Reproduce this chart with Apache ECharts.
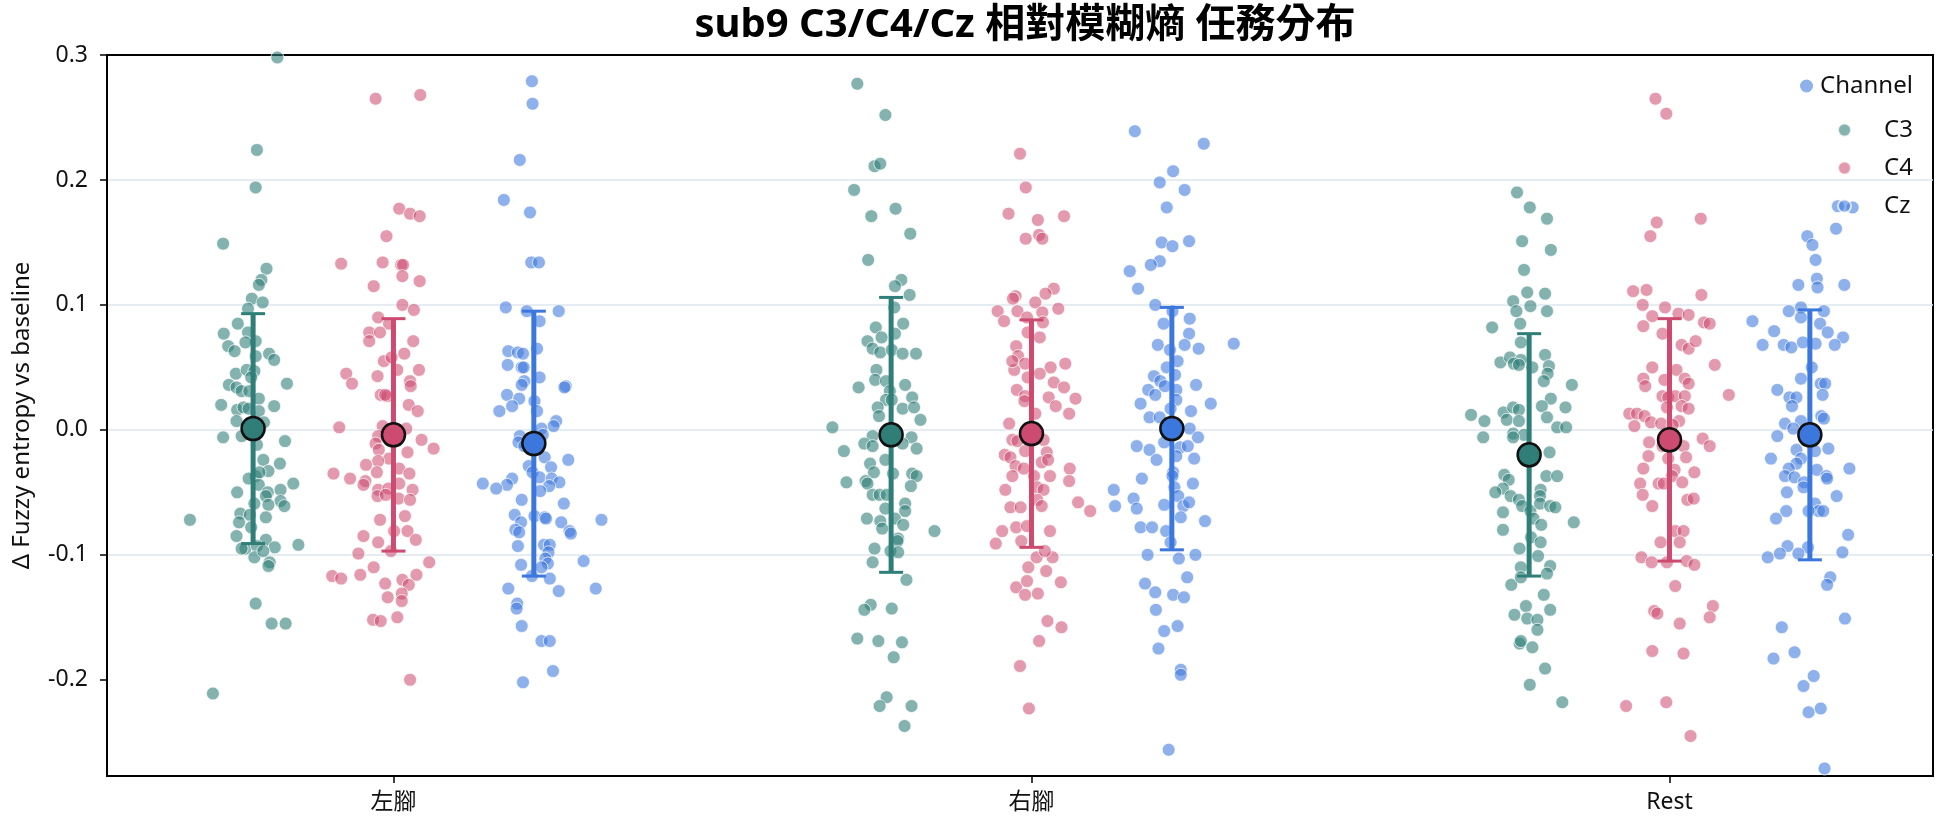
<!DOCTYPE html>
<html>
<head>
<meta charset="utf-8">
<title>sub9 C3/C4/Cz</title>
<script src="https://cdn.jsdelivr.net/npm/echarts@6/dist/echarts.min.js"></script>
<style>
  html, body { margin: 0; padding: 0; background: #fff; }
  #chart { width: 1944px; height: 827px; }
</style>
</head>
<body>
<div id="chart"></div>
<script>
// categories
var groups = ['左腳', '右腳', 'Rest'];
var channels = ['C3', 'C4', 'Cz'];

// each point: [jitter (thousandths of a category), delta fuzzy entropy]
var leftC3 = [[38,0.298],[6,0.224],[4,0.194],[-47,0.149],[21,0.129],[13,0.120],[9,0.116],[-2,0.105],[15,0.102],[-8,0.097],[-24,0.085],[-46,0.077],[-8,0.078],[4,0.071],[-39,0.067],[-29,0.063],[-12,0.070],[25,0.061],[33,0.056],[4,0.059],[-27,0.045],[-10,0.048],[2,0.047],[-3,0.042],[-38,0.036],[-26,0.034],[-18,0.031],[-6,0.031],[53,0.037],[9,0.025],[-50,0.020],[-25,0.016],[-15,0.018],[33,0.019],[9,0.015],[-26,0.007],[17,0.006],[-47,-0.006],[-18,-0.005],[50,-0.009],[6,-0.012],[16,-0.024],[42,-0.027],[24,-0.033],[4,-0.037],[-7,-0.039],[9,-0.044],[63,-0.043],[-25,-0.050],[23,-0.050],[43,-0.048],[20,-0.053],[43,-0.057],[49,-0.061],[2,-0.059],[24,-0.060],[-20,-0.067],[-5,-0.068],[20,-0.070],[-99,-0.072],[-22,-0.074],[-3,-0.078],[-26,-0.085],[20,-0.088],[34,-0.094],[-12,-0.095],[6,-0.093],[71,-0.092],[2,-0.102],[26,-0.106],[24,-0.109],[4,-0.139],[29,-0.155],[51,-0.155],[-63,-0.211],[-18,-0.095],[16,-0.097],[-7,0.017],[10,-0.034]];
var leftC4 = [[-28,0.265],[42,0.268],[9,0.177],[26,0.173],[41,0.171],[-11,0.155],[-82,0.133],[-17,0.134],[12,0.132],[15,0.132],[14,0.123],[41,0.119],[-31,0.115],[14,0.100],[32,0.096],[-24,0.090],[-7,0.085],[-38,0.078],[-21,0.078],[-38,0.071],[31,0.071],[17,0.061],[-15,0.055],[-3,0.058],[-74,0.045],[-65,0.037],[-25,0.043],[6,0.048],[40,0.048],[26,0.039],[27,0.035],[-20,0.028],[-10,0.027],[-13,0.028],[24,0.020],[38,0.015],[-85,0.002],[-17,0.003],[20,0.001],[-24,-0.005],[44,-0.008],[-28,-0.011],[63,-0.015],[-23,-0.016],[22,-0.018],[-7,-0.023],[-24,-0.025],[-43,-0.028],[-94,-0.035],[-68,-0.039],[-44,-0.041],[-26,-0.034],[9,-0.031],[25,-0.035],[-47,-0.044],[-24,-0.048],[-8,-0.047],[9,-0.043],[30,-0.048],[-25,-0.053],[-12,-0.052],[8,-0.055],[26,-0.056],[-21,-0.072],[18,-0.069],[-47,-0.085],[-24,-0.090],[1,-0.081],[22,-0.081],[35,-0.088],[-55,-0.099],[-4,-0.097],[-31,-0.110],[-96,-0.117],[-82,-0.119],[-52,-0.116],[56,-0.106],[36,-0.116],[-13,-0.123],[14,-0.120],[24,-0.124],[13,-0.131],[-9,-0.134],[13,-0.137],[-32,-0.152],[-20,-0.153],[6,-0.150],[26,-0.200]];
var leftCz = [[-3,0.279],[-2,0.261],[-22,0.216],[-47,0.184],[-6,0.174],[-4,0.134],[8,0.134],[-44,0.098],[-11,0.095],[39,0.095],[9,0.087],[5,0.065],[-40,0.063],[-25,0.062],[-17,0.061],[-41,0.052],[-19,0.050],[-16,0.050],[9,0.042],[-15,0.039],[-19,0.036],[50,0.035],[48,0.034],[-42,0.028],[-23,0.025],[1,0.023],[-34,0.019],[-54,0.015],[5,0.015],[35,0.007],[31,0.003],[12,0.001],[-22,-0.005],[-24,-0.010],[14,-0.004],[-15,-0.013],[54,-0.024],[17,-0.022],[27,-0.030],[-8,-0.029],[-2,-0.034],[-34,-0.039],[-42,-0.044],[-80,-0.043],[-59,-0.047],[9,-0.038],[28,-0.039],[40,-0.042],[24,-0.045],[10,-0.049],[-19,-0.056],[47,-0.059],[-30,-0.068],[1,-0.069],[17,-0.070],[19,-0.071],[43,-0.074],[-20,-0.074],[106,-0.072],[-29,-0.080],[-23,-0.082],[56,-0.081],[58,-0.083],[-25,-0.093],[16,-0.092],[25,-0.092],[23,-0.098],[18,-0.103],[22,-0.107],[-20,-0.108],[78,-0.105],[12,-0.110],[-3,-0.117],[25,-0.119],[-40,-0.127],[39,-0.129],[97,-0.127],[-26,-0.139],[-27,-0.143],[-19,-0.157],[12,-0.169],[25,-0.169],[30,-0.193],[-17,-0.202]];

var rightC3 = [[-53,0.277],[-9,0.252],[-26,0.211],[-17,0.213],[-58,0.192],[7,0.177],[-31,0.171],[30,0.157],[-36,0.136],[16,0.120],[6,0.115],[29,0.108],[5,0.098],[19,0.085],[-24,0.082],[6,0.077],[-15,0.074],[-37,0.071],[-29,0.065],[-17,0.062],[1,0.064],[18,0.061],[39,0.061],[-23,0.048],[-25,0.040],[-51,0.034],[-8,0.039],[22,0.036],[-2,0.031],[-8,0.024],[1,0.024],[33,0.026],[-21,0.018],[18,0.017],[36,0.018],[-19,0.011],[46,0.008],[-92,0.002],[-29,-0.005],[32,-0.006],[-42,-0.011],[-29,-0.013],[18,-0.011],[40,-0.015],[-74,-0.017],[-9,-0.024],[-33,-0.027],[-27,-0.034],[3,-0.035],[33,-0.035],[40,-0.037],[-70,-0.042],[-40,-0.041],[-37,-0.043],[31,-0.045],[-29,-0.052],[-18,-0.052],[-7,-0.052],[-9,-0.063],[22,-0.059],[22,-0.065],[-38,-0.071],[-17,-0.073],[6,-0.071],[19,-0.076],[-14,-0.079],[68,-0.081],[11,-0.087],[10,-0.089],[-26,-0.095],[-1,-0.097],[11,-0.098],[-29,-0.106],[24,-0.120],[-32,-0.140],[-42,-0.144],[1,-0.143],[-53,-0.167],[-20,-0.169],[17,-0.170],[4,-0.182],[-7,-0.214],[-18,-0.221],[32,-0.221],[21,-0.237]];
var rightC4 = [[-18,0.221],[-9,0.194],[-36,0.173],[10,0.168],[51,0.171],[-9,0.153],[12,0.156],[17,0.153],[35,0.113],[22,0.109],[-25,0.107],[-29,0.105],[6,0.102],[-53,0.095],[-22,0.095],[42,0.097],[-43,0.087],[-7,0.090],[17,0.094],[18,0.086],[-6,0.078],[13,0.074],[-24,0.067],[-21,0.059],[-27,0.048],[-30,0.055],[-10,0.053],[30,0.050],[53,0.053],[13,0.045],[-6,0.042],[35,0.038],[51,0.034],[-23,0.032],[-10,0.027],[-11,0.023],[27,0.026],[69,0.025],[38,0.019],[6,0.013],[59,0.013],[-35,0.005],[-30,-0.008],[-22,-0.009],[19,-0.008],[-10,-0.017],[-42,-0.020],[24,-0.018],[-33,-0.022],[16,-0.026],[26,-0.024],[-25,-0.029],[-12,-0.031],[60,-0.031],[29,-0.037],[-30,-0.037],[4,-0.037],[59,-0.041],[-41,-0.048],[9,-0.046],[19,-0.048],[9,-0.056],[16,-0.061],[-33,-0.062],[-17,-0.062],[73,-0.058],[92,-0.065],[-24,-0.078],[-7,-0.077],[29,-0.081],[-46,-0.081],[-56,-0.091],[-16,-0.089],[8,-0.102],[33,-0.102],[21,-0.097],[-5,-0.110],[23,-0.113],[46,-0.122],[-24,-0.126],[-7,-0.121],[-10,-0.132],[10,-0.131],[25,-0.153],[47,-0.158],[12,-0.169],[-18,-0.189],[-4,-0.223]];
var rightCz = [[-58,0.239],[50,0.229],[2,0.207],[-19,0.198],[20,0.192],[-8,0.178],[-16,0.150],[1,0.147],[27,0.151],[-19,0.135],[-33,0.132],[-66,0.127],[-53,0.113],[-26,0.100],[1,0.095],[28,0.089],[-13,0.085],[27,0.077],[-22,0.068],[-3,0.064],[20,0.068],[42,0.065],[97,0.069],[9,0.055],[-8,0.050],[5,0.044],[-28,0.043],[-18,0.039],[38,0.036],[-37,0.032],[-11,0.035],[7,0.032],[-26,0.028],[-49,0.021],[7,0.024],[61,0.021],[-2,0.017],[30,0.015],[-35,0.010],[-19,0.010],[28,0.001],[41,-0.006],[-12,-0.010],[-55,-0.013],[-35,-0.016],[13,-0.014],[25,-0.013],[7,-0.021],[-24,-0.024],[35,-0.023],[2,-0.034],[1,-0.037],[-47,-0.039],[33,-0.043],[4,-0.046],[-91,-0.048],[-89,-0.061],[-60,-0.055],[-55,-0.063],[-12,-0.060],[10,-0.053],[18,-0.061],[27,-0.058],[14,-0.070],[52,-0.073],[-49,-0.078],[-31,-0.078],[-9,-0.081],[-2,-0.090],[-38,-0.100],[11,-0.103],[37,-0.100],[24,-0.118],[-42,-0.123],[-26,-0.130],[2,-0.132],[19,-0.134],[-25,-0.144],[9,-0.157],[-12,-0.161],[-21,-0.175],[14,-0.192],[14,-0.196],[-5,-0.256]];

var restC3 = [[-19,0.190],[1,0.178],[28,0.169],[-11,0.151],[34,0.144],[-8,0.128],[-3,0.110],[25,0.109],[-25,0.103],[2,0.099],[-20,0.095],[28,0.095],[-14,0.085],[-58,0.082],[-13,0.070],[25,0.060],[-45,0.054],[-30,0.058],[-13,0.056],[-24,0.053],[-16,0.052],[5,0.050],[31,0.051],[29,0.045],[23,0.039],[67,0.036],[34,0.025],[20,0.019],[57,0.018],[-40,0.014],[-25,0.018],[-16,0.016],[-91,0.012],[-70,0.007],[-35,0.008],[-16,0.007],[28,0.010],[44,0.002],[58,0.002],[-25,-0.003],[-8,-0.004],[-72,-0.006],[-25,-0.006],[32,-0.018],[-39,-0.036],[-32,-0.040],[27,-0.037],[44,-0.037],[-41,-0.047],[-53,-0.050],[-29,-0.053],[-16,-0.056],[18,-0.048],[17,-0.053],[-11,-0.061],[2,-0.065],[17,-0.059],[33,-0.061],[41,-0.062],[-41,-0.066],[7,-0.071],[19,-0.076],[70,-0.074],[-41,-0.080],[3,-0.086],[18,-0.090],[-15,-0.095],[14,-0.101],[-13,-0.110],[33,-0.109],[28,-0.115],[-28,-0.124],[-13,-0.118],[23,-0.132],[33,-0.144],[-5,-0.141],[-23,-0.148],[-3,-0.151],[13,-0.152],[13,-0.160],[-15,-0.171],[-13,-0.169],[5,-0.174],[25,-0.191],[1,-0.204],[52,-0.218]];
var restC4 = [[-22,0.265],[-5,0.253],[-20,0.166],[-30,0.155],[49,0.169],[-57,0.111],[-36,0.112],[50,0.108],[-42,0.100],[-7,0.098],[-27,0.091],[14,0.093],[30,0.092],[54,0.086],[63,0.085],[-41,0.083],[-11,0.077],[19,0.068],[30,0.065],[41,0.071],[71,0.052],[-27,0.050],[11,0.048],[-41,0.041],[-38,0.035],[-8,0.040],[24,0.041],[30,0.037],[93,0.028],[-11,0.027],[-2,0.026],[9,0.027],[24,0.027],[-4,0.018],[19,0.019],[30,0.017],[-63,0.013],[-51,0.013],[-39,0.011],[-29,0.006],[-13,0.005],[15,0.007],[-55,0.003],[5,0.004],[52,-0.007],[63,-0.013],[-32,-0.010],[-11,-0.013],[22,-0.013],[-33,-0.021],[-2,-0.023],[26,-0.022],[-41,-0.031],[8,-0.032],[39,-0.034],[4,-0.037],[-46,-0.043],[-17,-0.043],[-9,-0.043],[20,-0.042],[-42,-0.052],[28,-0.056],[38,-0.055],[-27,-0.061],[9,-0.081],[22,-0.081],[16,-0.090],[-14,-0.090],[-44,-0.102],[-28,-0.106],[-4,-0.106],[27,-0.105],[39,-0.108],[9,-0.125],[68,-0.141],[63,-0.150],[-24,-0.145],[-19,-0.147],[16,-0.155],[-27,-0.177],[22,-0.179],[-68,-0.221],[-5,-0.218],[33,-0.245]];
var restCz = [[44,0.179],[67,0.178],[41,0.161],[-4,0.155],[4,0.148],[9,0.136],[11,0.121],[-18,0.116],[12,0.114],[54,0.116],[-14,0.098],[-33,0.095],[22,0.095],[-14,0.090],[-90,0.087],[16,0.085],[-56,0.079],[28,0.078],[52,0.074],[-74,0.068],[-41,0.068],[-29,0.066],[-11,0.070],[9,0.069],[39,0.068],[3,0.050],[-14,0.041],[17,0.037],[24,0.037],[-51,0.032],[-32,0.026],[-21,0.026],[-28,0.019],[20,0.028],[18,0.011],[22,0.009],[-14,0.007],[-39,0.005],[-26,0.001],[-51,-0.005],[29,-0.015],[-21,-0.016],[8,-0.017],[-61,-0.023],[-14,-0.023],[-21,-0.027],[62,-0.031],[-33,-0.031],[11,-0.032],[-39,-0.037],[-24,-0.038],[-9,-0.042],[26,-0.037],[27,-0.039],[-10,-0.046],[-36,-0.050],[42,-0.053],[8,-0.059],[14,-0.065],[21,-0.065],[-2,-0.065],[-37,-0.065],[-53,-0.071],[60,-0.084],[-35,-0.093],[-3,-0.094],[-66,-0.102],[-47,-0.099],[-18,-0.099],[51,-0.098],[32,-0.118],[27,-0.124],[55,-0.151],[-44,-0.158],[-57,-0.183],[-24,-0.178],[6,-0.197],[-10,-0.205],[-2,-0.226],[17,-0.223],[23,-0.271]];

// mean and SD per group (左腳, 右腳, Rest)
var meanC3 = [0.001, -0.004, -0.020];
var sdC3   = [0.092, 0.110, 0.097];
var meanC4 = [-0.004, -0.003, -0.008];
var sdC4   = [0.093, 0.091, 0.097];
var meanCz = [-0.011, 0.001, -0.004];
var sdCz   = [0.106, 0.097, 0.100];

// y tick labels
var yTicks = [-0.2, -0.1, 0.0, 0.1, 0.2, 0.3];

var strips = { C3: [leftC3, rightC3, restC3], C4: [leftC4, rightC4, restC4], Cz: [leftCz, rightCz, restCz] };
var means = { C3: meanC3, C4: meanC4, Cz: meanCz };
var sds = { C3: sdC3, C4: sdC4, Cz: sdCz };

var baseColor = { C3: '#2f7f78', C4: '#cd4b70', Cz: '#3c77dd' };
var dotColor  = { C3: 'rgba(47,127,120,0.74)', C4: 'rgba(205,75,112,0.7)', Cz: 'rgba(60,119,221,0.72)' };
var dodge = { C3: -0.22, C4: 0, Cz: 0.22 };

var FONT = '"Noto Sans", "Noto Sans CJK TC", sans-serif';

function errorBar(color) {
    return function (params, api) {
        var x = api.value(0), m = api.value(1), s = api.value(2);
        var top = api.coord([x, m + s]);
        var bot = api.coord([x, m - s]);
        var half = 12;
        return {
            type: 'group',
            children: [
                { type: 'line', shape: { x1: top[0], y1: top[1], x2: bot[0], y2: bot[1] }, style: { stroke: color, lineWidth: 5 } },
                { type: 'line', shape: { x1: top[0] - half, y1: top[1], x2: top[0] + half, y2: top[1] }, style: { stroke: color, lineWidth: 3 } },
                { type: 'line', shape: { x1: bot[0] - half, y1: bot[1], x2: bot[0] + half, y2: bot[1] }, style: { stroke: color, lineWidth: 3 } }
            ]
        };
    };
}

var series = [];
// legend title entry
series.push({ name: 'Channel', type: 'scatter', data: [], itemStyle: { color: dotColor.Cz } });

channels.forEach(function (ch) {
    var pts = [];
    strips[ch].forEach(function (arr, g) {
        arr.forEach(function (p) {
            pts.push([g + dodge[ch] + p[0] / 1000, p[1]]);
        });
    });
    series.push({
        name: ch, type: 'scatter', data: pts, symbolSize: 13, z: 2,
        itemStyle: { color: dotColor[ch], borderColor: 'rgba(255,255,255,0.9)', borderWidth: 1 }
    });
});

channels.forEach(function (ch) {
    var bars = means[ch].map(function (m, g) { return [g + dodge[ch], m, sds[ch][g]]; });
    series.push({
        name: ch + ' sd', type: 'custom', data: bars, z: 3,
        encode: { x: 0, y: 1 },
        renderItem: errorBar(baseColor[ch])
    });
    series.push({
        name: ch + ' mean', type: 'scatter', z: 4, symbolSize: 23,
        data: means[ch].map(function (m, g) { return [g + dodge[ch], m]; }),
        itemStyle: { color: baseColor[ch], borderColor: '#111', borderWidth: 2.5, opacity: 1 }
    });
});

var chart = echarts.init(document.getElementById('chart'));
chart.setOption({
    animation: false,
    backgroundColor: '#fff',
    textStyle: { fontFamily: FONT },
    title: {
        text: 'sub9 C3/C4/Cz 相對模糊熵 任務分布',
        left: 1020, top: 1, textAlign: 'center',
        textStyle: { fontFamily: FONT, fontSize: 40, fontWeight: 'bold', color: '#000' }
    },
    legend: [
        {
            data: ['Channel'], left: 1795, top: 69, itemWidth: 13, itemHeight: 13, icon: 'circle',
            selectedMode: false,
            textStyle: { fontFamily: FONT, fontSize: 24, color: '#111', padding: [0, 0, 0, 2] }
        },
        {
            data: ['C3', 'C4', 'Cz'], orient: 'vertical', left: 1832, top: 113, itemGap: 14,
            itemWidth: 13, itemHeight: 13, icon: 'circle', selectedMode: false,
            textStyle: { fontFamily: FONT, fontSize: 24, color: '#111', padding: [0, 0, 0, 28] }
        }
    ],
    grid: { left: 107, right: 11, top: 55, bottom: 51, show: true, borderColor: '#000', borderWidth: 2, backgroundColor: 'transparent' },
    xAxis: {
        type: 'value', min: -0.449, max: 2.413,
        axisLine: { show: true, onZero: false, lineStyle: { color: '#000', width: 2 } },
        axisTick: { show: true, length: 7, lineStyle: { color: '#000', width: 1.5 }, customValues: [0, 1, 2] },
        axisLabel: {
            customValues: [0, 1, 2], margin: 15, fontSize: 23, color: '#111', fontFamily: FONT,
            formatter: function (v) { return groups[Math.round(v)]; }
        },
        splitLine: { show: false }
    },
    yAxis: {
        type: 'value', min: -0.277, max: 0.3,
        name: 'Δ Fuzzy entropy vs baseline', nameLocation: 'middle', nameGap: 73,
        nameTextStyle: { fontFamily: FONT, fontSize: 24, color: '#111' },
        axisLine: { show: true, onZero: false, lineStyle: { color: '#000', width: 2 } },
        axisTick: { show: true, length: 7, lineStyle: { color: '#000', width: 1.5 }, customValues: yTicks },
        axisLabel: {
            customValues: yTicks, margin: 19, fontSize: 23, color: '#111', fontFamily: FONT,
            formatter: function (v) { return v.toFixed(1); }
        },
        splitLine: { show: true, showMinLine: false, showMaxLine: false, lineStyle: { color: '#dde6ee', width: 1.5 } }
    },
    series: series
});
</script>
</body>
</html>
